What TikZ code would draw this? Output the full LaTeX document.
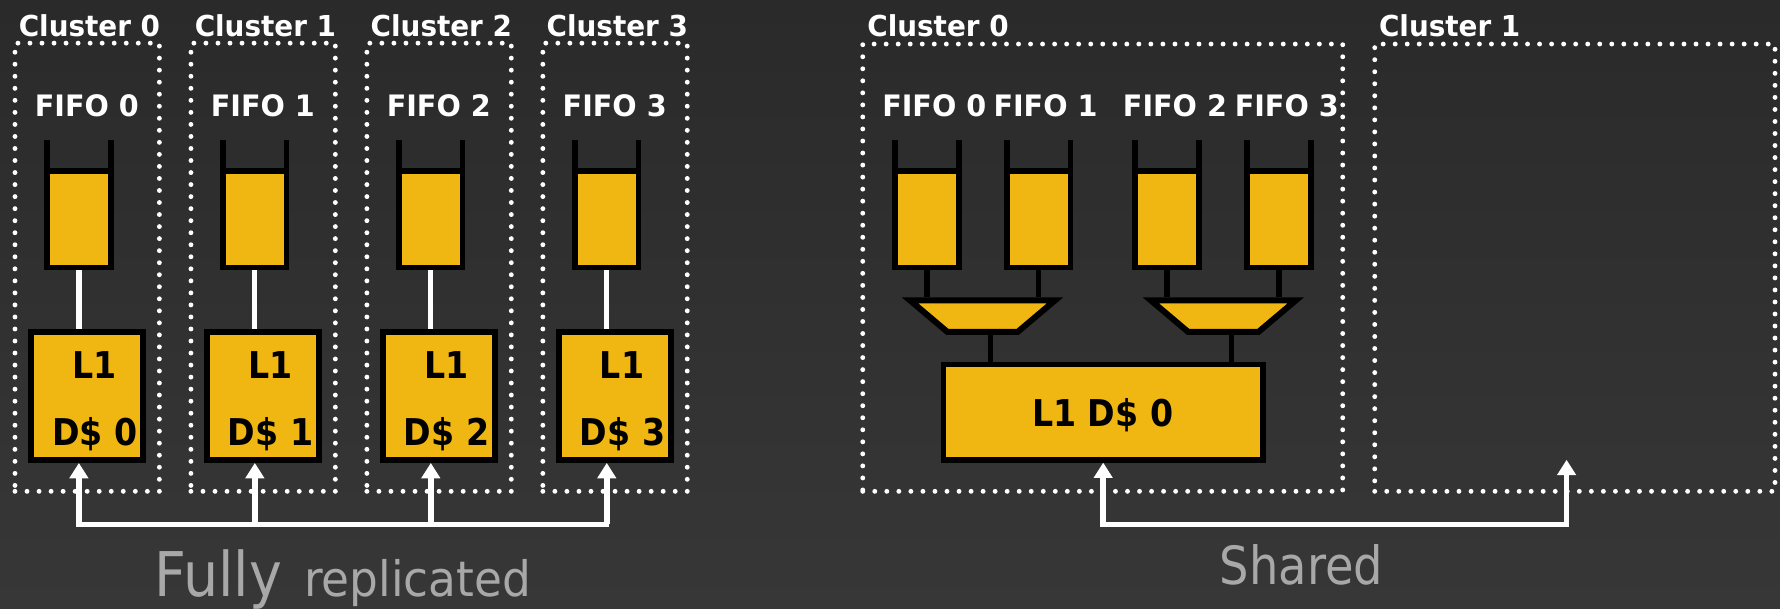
\documentclass[tikz,border=0pt]{standalone}
\usepackage{fontspec}
\usepackage{graphicx}
\setmainfont{DejaVu Sans}
\usetikzlibrary{arrows.meta,calc}

\definecolor{bgtop}{RGB}{42,42,42}
\definecolor{bgbot}{RGB}{55,55,55}
\definecolor{cacheyellow}{RGB}{240,182,18}
\definecolor{labelgray}{RGB}{168,168,168}

% horizontally narrowed text
\newcommand{\narrowtext}[2]{\scalebox{#1}[1]{#2}}

\tikzset{
  clusterbox/.style={rectangle, draw=white, line width=4.3pt,
    dash pattern=on 0pt off 10.6pt, line cap=round, inner sep=0pt, outer sep=0pt},
  fifobody/.style={rectangle, draw=black, fill=cacheyellow, line width=5pt,
    minimum width=56pt, minimum height=85pt, inner sep=0pt, outer sep=0pt},
  fifowall/.style={draw=black, line width=5pt},
  cachebox/.style={rectangle, draw=black, fill=cacheyellow, line width=5pt,
    inner sep=0pt, outer sep=0pt},
  muxframe/.style={rectangle, minimum width=127.8pt, minimum height=27.7pt,
    inner sep=0pt, outer sep=0pt},
  muxbody/.style={draw=black, fill=cacheyellow, line width=5.3pt, line join=miter},
  titlelbl/.style={text=white, inner sep=0pt, anchor=base,
    font=\bfseries\fontsize{25.4}{30}\selectfont},
  fifolbl/.style={text=white, inner sep=0pt, anchor=base,
    font=\bfseries\fontsize{26}{31}\selectfont},
  cachelbl/.style={text=black, inner sep=0pt, anchor=base,
    font=\bfseries\fontsize{32.5}{38}\selectfont},
  captionlbl/.style={text=labelgray, inner sep=0pt, anchor=base},
  whitewire/.style={draw=white, line width=4.6pt, shorten <=2.5pt, shorten >=2.5pt},
  blackwire/.style={draw=black, line width=4.6pt, shorten <=2.5pt, shorten >=2.5pt},
  busline/.style={draw=white, line width=4.8pt, line cap=rect},
  busarrow/.style={draw=white, line width=5pt, -{Triangle[width=16pt,length=13.5pt]}},
}

\begin{document}
\begin{tikzpicture}[x=1pt, y=-1pt]
  % backdrop
  \shade[top color=bgtop, bottom color=bgbot] (0,0) rectangle (1568,536);
  \useasboundingbox (0,0) rectangle (1568,536);

  \coordinate (busy) at (0,461.8);

  % ---------- fully replicated: four clusters ----------
  \foreach \i in {0,1,2,3} {
    \pgfmathsetmacro{\dx}{155*\i}
    \node[clusterbox, minimum width=127.2pt, minimum height=394.8pt]
      (k\i) at (76.8+\dx,235.4) {};
    \node[titlelbl] (kt\i) at (78.8+\dx,32) {\narrowtext{0.965}{Cluster \i}};
    \node[fifolbl] (ft\i) at (76.5+\dx,102.7) {\narrowtext{0.97}{FIFO \i}};
    \node[fifobody] (f\i) at (69.5+\dx,193) {};
    \draw[fifowall] (f\i.north west) -- ++(0,-27.2);
    \draw[fifowall] (f\i.north east) -- ++(0,-27.2);
    \node[cachebox, minimum width=98.3pt, minimum height=112.8pt]
      (l\i) at (76.65+\dx,348.9) {};
    \node[cachelbl] (lt\i) at (83+\dx,333.5) {\narrowtext{0.9}{L1}};
    \node[cachelbl] (ld\i) at (83.4+\dx,392.4) {\narrowtext{0.9}{D\$ \i}};
    \draw[whitewire] (f\i.south) -- (f\i.south |- l\i.north);
    \draw[busarrow, shorten >=2.5pt] (f\i.south |- busy) -- (f\i.south |- l\i.south);
  }
  \draw[busline] (f0.south |- busy) -- (f3.south |- busy);

  \node[captionlbl, font=\fontsize{54.3}{60}\selectfont] (cap1) at (192,525.6)
    {\narrowtext{0.9}{Fully}};
  \node[captionlbl, font=\fontsize{43}{50}\selectfont] (cap2) at (367.9,525.6)
    {\narrowtext{0.93}{replicated}};

  % ---------- shared: two clusters ----------
  \node[clusterbox, minimum width=422.8pt, minimum height=394pt] (rk0) at (971.4,235.8) {};
  \node[clusterbox, minimum width=352.6pt, minimum height=394pt] (rk1) at (1387.3,235.8) {};
  \node[titlelbl] (rkt0) at (826.3,32) {\narrowtext{0.965}{Cluster 0}};
  \node[titlelbl] (rkt1) at (1277,32) {\narrowtext{0.965}{Cluster 1}};

  \foreach \i/\xf/\xl in {0/816.5/823, 1/915/921, 2/1028/1035, 3/1126.6/1133.5} {
    \node[fifolbl] (rft\i) at (\xl,102.7) {\narrowtext{0.97}{FIFO \i}};
    \node[fifobody] (rf\i) at (\xf,193) {};
    \draw[fifowall] (rf\i.north west) -- ++(0,-27.2);
    \draw[fifowall] (rf\i.north east) -- ++(0,-27.2);
  }

  % two 2:1 selectors
  \node[muxframe] (m1) at (865.5,278.4) {};
  \node[muxframe] (m2) at (1077.6,278.4) {};
  \foreach \m in {m1,m2} {
    \draw[muxbody] (\m.north west) -- (\m.north east)
      -- ([xshift=-32.8pt]\m.south east) -- ([xshift=32.8pt]\m.south west) -- cycle;
  }
  \draw[blackwire] (rf0.south) -- (rf0.south |- m1.north);
  \draw[blackwire] (rf1.south) -- (rf1.south |- m1.north);
  \draw[blackwire] (rf2.south) -- (rf2.south |- m2.north);
  \draw[blackwire] (rf3.south) -- (rf3.south |- m2.north);

  \node[cachebox, minimum width=281.6pt, minimum height=84pt] (rl) at (971.8,363) {};
  \node[cachelbl] (rlt) at (971.4,375.9) {\narrowtext{0.9}{L1 D\$ 0}};

  \coordinate (m1o) at ([xshift=7pt]m1.south);
  \coordinate (m2o) at ([xshift=7pt]m2.south);
  \draw[blackwire] (m1o) -- (m1o |- rl.north);
  \draw[blackwire] (m2o) -- (m2o |- rl.north);

  % shared port reaching both clusters
  \coordinate (c1tip) at (1380,405);
  \draw[busline] (rl.south |- busy) -- (c1tip |- busy);
  \draw[busarrow, shorten >=2.5pt] (rl.south |- busy) -- (rl.south);
  \draw[busarrow] (c1tip |- busy) -- (c1tip);

  \node[captionlbl, font=\fontsize{46.4}{52}\selectfont] (cap3) at (1146.5,515.3)
    {\narrowtext{0.88}{Shared}};
\end{tikzpicture}
\end{document}
